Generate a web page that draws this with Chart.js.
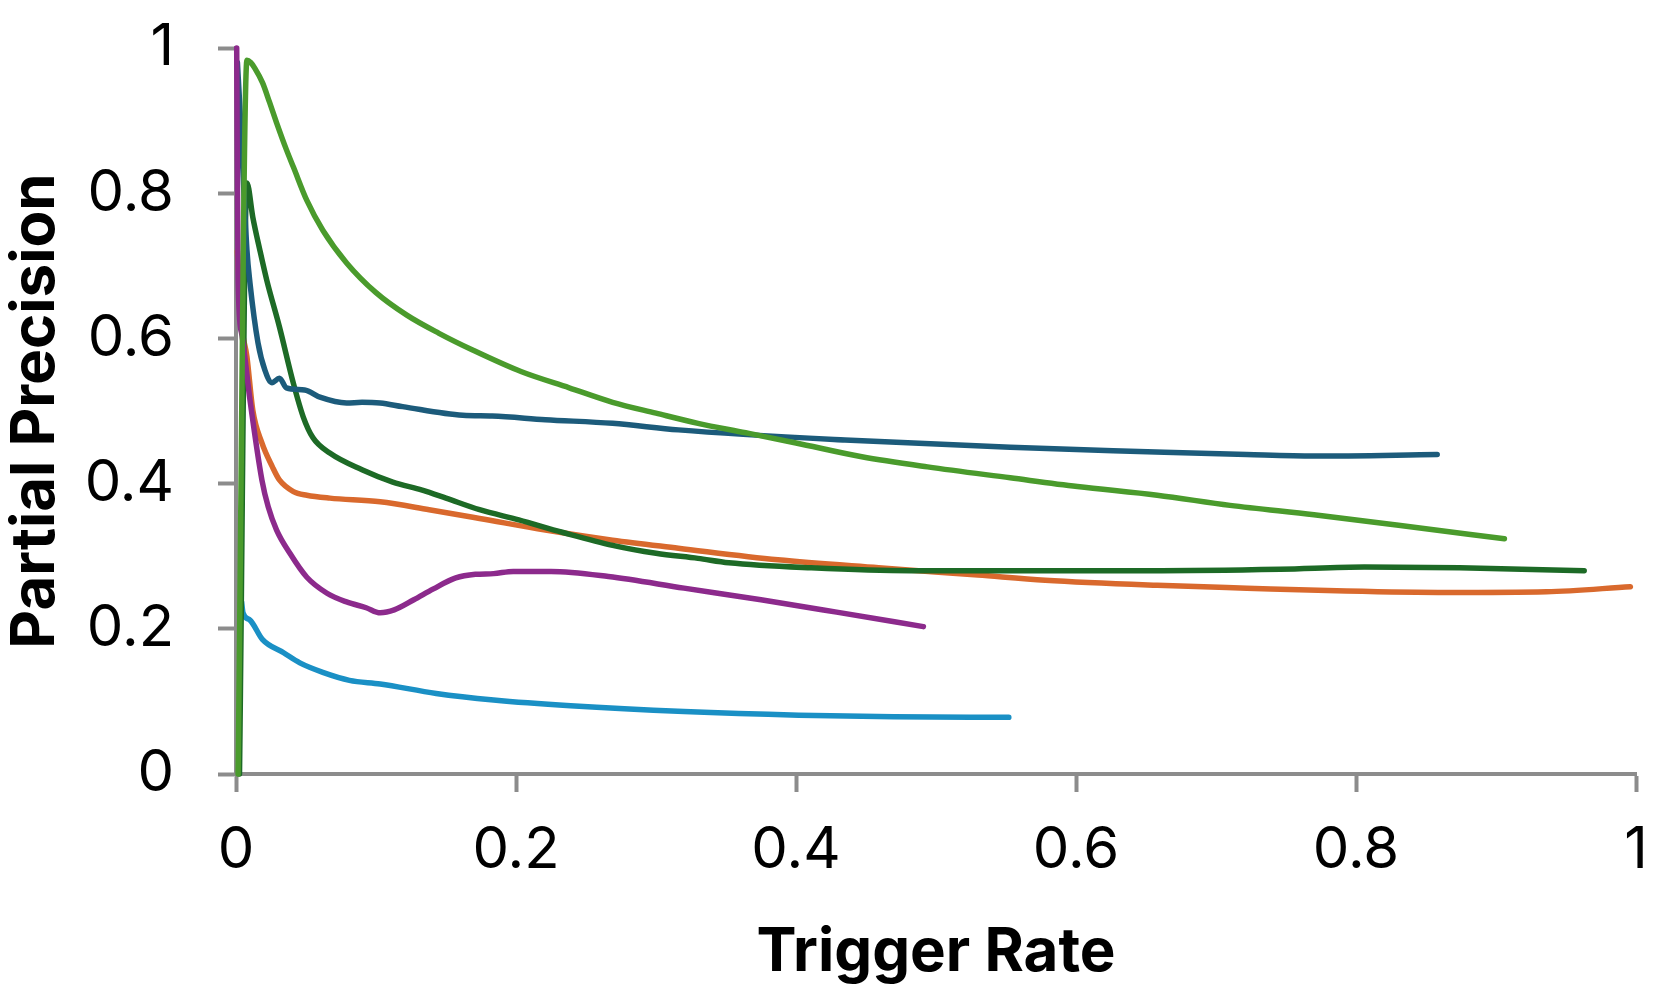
<!DOCTYPE html>
<html>
<head>
<meta charset="utf-8">
<script src="https://cdn.jsdelivr.net/npm/chart.js@4"></script>
<style>
  html, body { margin: 0; padding: 0; background: #fff; }
  #wrap { width: 1658px; height: 989px; }
</style>
</head>
<body>
<div id="wrap"><canvas id="chart" width="1658" height="989"></canvas></div>
<script>
// series data: trigger rate (x) vs partial precision (y)
const lightGreenX = [0.0015, 0.0078, 0.0105, 0.0135, 0.019, 0.024, 0.029, 0.036, 0.041, 0.0506, 0.062, 0.079, 0.1, 0.122, 0.145, 0.169, 0.204, 0.238, 0.269, 0.3, 0.33, 0.364, 0.4, 0.447, 0.494, 0.553, 0.601, 0.658, 0.71, 0.77, 0.829, 0.906];
const lightGreenY = [0, 0.983, 0.98, 0.972, 0.952, 0.925, 0.897, 0.86, 0.836, 0.79, 0.749, 0.704, 0.663, 0.632, 0.607, 0.584, 0.554, 0.532, 0.512, 0.497, 0.483, 0.47, 0.456, 0.437, 0.423, 0.408, 0.396, 0.384, 0.37, 0.357, 0.343, 0.324];

const darkBlueX = [0.001, 0.003, 0.0078, 0.01, 0.0157, 0.0207, 0.0257, 0.031, 0.036, 0.049, 0.06, 0.079, 0.09, 0.103, 0.119, 0.162, 0.183, 0.221, 0.269, 0.316, 0.435, 0.553, 0.651, 0.722, 0.77, 0.858];
const darkBlueY = [0.98, 0.91, 0.722, 0.676, 0.594, 0.556, 0.539, 0.545, 0.532, 0.529, 0.519, 0.511, 0.512, 0.511, 0.506, 0.494, 0.493, 0.488, 0.483, 0.474, 0.46, 0.45, 0.444, 0.44, 0.438, 0.44];

const darkGreenX = [0.0025, 0.0078, 0.012, 0.017, 0.022, 0.031, 0.041, 0.048, 0.055, 0.067, 0.09, 0.112, 0.133, 0.15, 0.174, 0.202, 0.233, 0.269, 0.3, 0.33, 0.352, 0.411, 0.482, 0.578, 0.651, 0.746, 0.806, 0.874, 0.963];
const darkGreenY = [0, 0.814, 0.767, 0.722, 0.68, 0.616, 0.538, 0.492, 0.463, 0.442, 0.419, 0.402, 0.391, 0.38, 0.364, 0.35, 0.333, 0.315, 0.304, 0.297, 0.291, 0.284, 0.28, 0.28, 0.28, 0.282, 0.285, 0.284, 0.28];

const orangeX = [0.001, 0.004, 0.0078, 0.012, 0.0185, 0.026, 0.031, 0.041, 0.0506, 0.067, 0.103, 0.138, 0.174, 0.221, 0.269, 0.316, 0.387, 0.459, 0.53, 0.578, 0.658, 0.722, 0.793, 0.865, 0.936, 0.996];
const orangeY = [0.72, 0.62, 0.575, 0.501, 0.456, 0.423, 0.405, 0.389, 0.384, 0.38, 0.375, 0.364, 0.352, 0.336, 0.322, 0.311, 0.295, 0.284, 0.274, 0.267, 0.26, 0.256, 0.252, 0.25, 0.251, 0.258];

const purpleX = [0.0005, 0.0015, 0.004, 0.01, 0.0185, 0.023, 0.029, 0.0385, 0.0506, 0.065, 0.079, 0.093, 0.103, 0.113, 0.127, 0.141, 0.157, 0.171, 0.184, 0.198, 0.225, 0.266, 0.32, 0.375, 0.429, 0.491];
const purpleY = [1.0, 0.68, 0.607, 0.515, 0.405, 0.368, 0.336, 0.304, 0.271, 0.249, 0.237, 0.229, 0.222, 0.226, 0.24, 0.255, 0.27, 0.275, 0.276, 0.279, 0.279, 0.272, 0.256, 0.24, 0.223, 0.203];

const lightBlueX = [0.004, 0.005, 0.01, 0.019, 0.034, 0.0456, 0.062, 0.081, 0.103, 0.143, 0.184, 0.239, 0.32, 0.402, 0.47, 0.552];
const lightBlueY = [0.237, 0.222, 0.212, 0.185, 0.167, 0.153, 0.14, 0.129, 0.124, 0.111, 0.102, 0.094, 0.086, 0.081, 0.079, 0.078];

const toPoints = (xs, ys) => xs.map((x, i) => ({ x: x, y: ys[i] }));

// first dataset ends up on top
const series = [
  { xs: lightGreenX, ys: lightGreenY, color: '#4a9b2c' },
  { xs: purpleX, ys: purpleY, color: '#8c2a8c' },
  { xs: darkBlueX, ys: darkBlueY, color: '#1c5b7b' },
  { xs: darkGreenX, ys: darkGreenY, color: '#1d6a26' },
  { xs: orangeX, ys: orangeY, color: '#d9692d' },
  { xs: lightBlueX, ys: lightBlueY, color: '#1a90c5' },
];

const axisGray = '#8c8c8c';
const tickFont = { family: 'Inter, Liberation Sans, sans-serif', size: 58 };
const titleFont = { family: 'Inter, Liberation Sans, sans-serif', size: 60, weight: 'bold' };
const fmt = (v) => String(Number(v.toFixed(1)));

new Chart(document.getElementById('chart'), {
  type: 'line',
  data: {
    datasets: series.map(s => ({
      data: toPoints(s.xs, s.ys),
      borderColor: s.color,
      borderWidth: 5.5,
      borderCapStyle: 'round',
      borderJoinStyle: 'round',
      pointRadius: 0,
      fill: false,
      cubicInterpolationMode: 'monotone',
      clip: false,
    })),
  },
  options: {
    responsive: false,
    devicePixelRatio: 1,
    animation: false,
    layout: { padding: { top: 48, right: 22, left: 0, bottom: 0 } },
    plugins: { legend: { display: false }, tooltip: { enabled: false } },
    scales: {
      x: {
        type: 'linear',
        min: 0,
        max: 1,
        ticks: { stepSize: 0.2, color: '#000', font: tickFont, padding: 24, maxRotation: 0, callback: fmt },
        grid: { drawOnChartArea: false, drawTicks: true, tickLength: 18, tickColor: axisGray, tickWidth: 4 },
        border: { display: true, color: axisGray, width: 4 },
        title: { display: true, text: 'Trigger Rate', color: '#000', font: titleFont, padding: { top: 0, bottom: 0 } },
        afterFit: (scale) => { scale.height = 215; scale.paddingLeft = 0; scale.paddingRight = 0; },
      },
      y: {
        type: 'linear',
        min: 0,
        max: 1,
        ticks: { stepSize: 0.2, color: '#000', font: tickFont, padding: 44, callback: fmt },
        grid: { drawOnChartArea: false, drawTicks: true, tickLength: 18, tickColor: axisGray, tickWidth: 4 },
        border: { display: true, color: axisGray, width: 4 },
        title: { display: true, text: 'Partial Precision', color: '#000', font: titleFont, padding: { top: 0, bottom: 0 } },
        afterFit: (scale) => { scale.width = 236; scale.paddingTop = 0; scale.paddingBottom = 0; },
      },
    },
  },
});
</script>
</body>
</html>
